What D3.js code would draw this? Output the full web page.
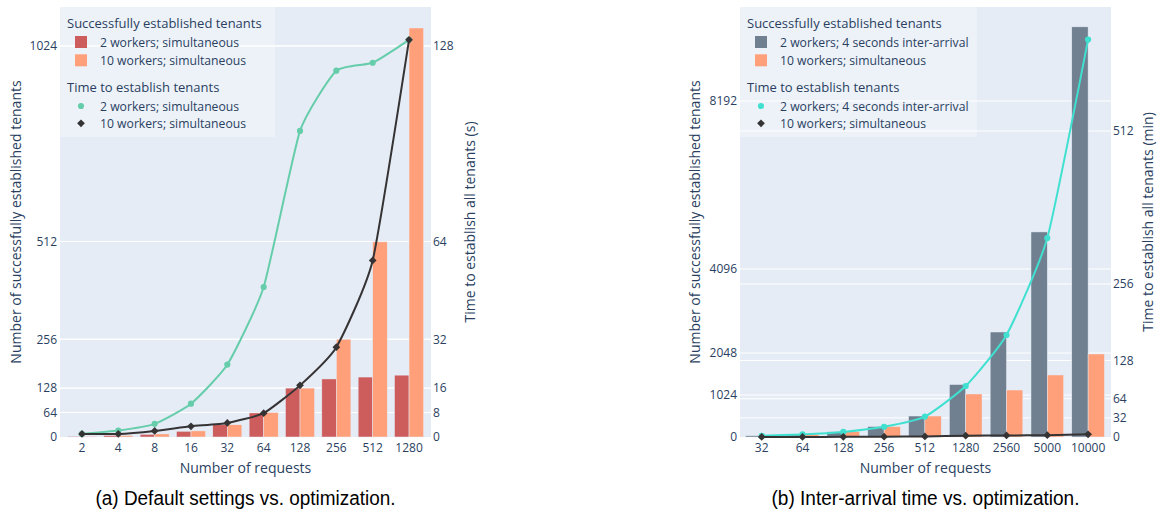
<!DOCTYPE html>
<html>
<head>
<meta charset="utf-8">
<script src="https://cdn.jsdelivr.net/npm/d3@7"></script>
<style>
  body { margin: 0; background: #fff; }
  text { font-family: "Open Sans", verdana, arial, sans-serif; fill: #2a3f5f; }
  .caption { font-family: "Liberation Sans", Arial, sans-serif; fill: #000; }
</style>
</head>
<body>
<div id="chart"></div>
<script>
//Data
var requestsA = ["2", "4", "8", "16", "32", "64", "128", "256", "512", "1280"];
var tenantsA2 = [2, 4, 7, 15, 32, 63, 128, 152, 157, 162];
var tenantsA10 = [2, 4, 8, 16, 32, 64, 128, 256, 511, 1071];
var timeA2 = [1.0, 2.1, 4.3, 10.9, 23.7, 49.1, 100.2, 119.9, 122.5, 130];
var timeA10 = [1.0, 1.0, 2.0, 3.5, 4.6, 7.8, 16.9, 29.4, 57.8, 130];
var leftTicksA = [0, 64, 128, 256, 512, 1024];
var rightTicksA = [0, 8, 16, 32, 64, 128];

var requestsB = ["32", "64", "128", "256", "512", "1280", "2560", "5000", "10000"];
var tenantsB2 = [32, 64, 128, 256, 512, 1280, 2560, 5000, 10000];
var tenantsB10 = [32, 64, 128, 256, 512, 1049, 1146, 1512, 2024];
var timeB2 = [2.1, 4.3, 8.5, 17.1, 34.1, 85.3, 170.7, 333, 665];
var timeB10 = [0.1, 0.1, 0.3, 0.5, 1.0, 2.2, 2.6, 3.0, 4.4];
var leftTicksB = [0, 1024, 2048, 4096, 8192];
var rightTicksB = [0, 32, 64, 128, 256, 512];

var legendTitles = ["Successfully established tenants", "Time to establish tenants"];
var legendA = ["2 workers; simultaneous", "10 workers; simultaneous"];
var legendB = ["2 workers; 4 seconds inter-arrival", "10 workers; simultaneous"];

var svg = d3
  .select("#chart")
  .append("svg")
  .attr("width", 1161)
  .attr("height", 513);

/**
 * draws one panel: bars on the left axis, lines on the right axis
 */
function drawPanel(p) {
  var g = svg.append("g");

  g.append("rect")
    .attr("x", p.left)
    .attr("y", p.top)
    .attr("width", p.right - p.left)
    .attr("height", p.bottom - p.top)
    .attr("fill", "#e5ecf6");

  var xScale = d3.scaleBand().domain(p.cats).range([p.x0, p.x1]).padding(0);
  var yScale = d3.scaleLinear().domain([0, p.yMax]).range([p.bottom, p.top]);
  var y2Scale = d3.scaleLinear().domain([0, p.y2Max]).range([p.bottom, p.top]);

  // grid lines for both axes
  g.selectAll(".grid1")
    .data(p.yTicks.filter((d) => d > 0))
    .enter()
    .append("line")
    .attr("x1", p.left)
    .attr("x2", p.right)
    .attr("y1", (d) => yScale(d))
    .attr("y2", (d) => yScale(d))
    .attr("stroke", "#fff")
    .attr("stroke-width", 1);
  g.selectAll(".grid2")
    .data(p.y2Ticks.filter((d) => d > 0))
    .enter()
    .append("line")
    .attr("x1", p.left)
    .attr("x2", p.right)
    .attr("y1", (d) => y2Scale(d))
    .attr("y2", (d) => y2Scale(d))
    .attr("stroke", "#fff")
    .attr("stroke-width", 1);

  //Bars
  var barW = xScale.bandwidth() * 0.4;
  var bars = [
    { values: p.bars1, color: p.color1, shift: -barW },
    { values: p.bars2, color: p.color2, shift: 0 },
  ];
  bars.forEach(function (b) {
    g.append("g")
      .selectAll("rect")
      .data(b.values)
      .enter()
      .append("rect")
      .attr("x", (d, i) => xScale(p.cats[i]) + xScale.bandwidth() / 2 + b.shift)
      .attr("y", (d) => yScale(d))
      .attr("width", barW)
      .attr("height", (d) => p.bottom - yScale(d))
      .attr("fill", b.color)
      .attr("stroke", "#e5ecf6")
      .attr("stroke-width", 0.5);
  });

  //Lines
  var lines = [
    { values: p.line1, color: p.lineColor1, symbol: d3.symbolCircle, size: 30, rot: 0 },
    { values: p.line2, color: "#353334", symbol: d3.symbolSquare, size: 30, rot: 45 },
  ];
  lines.forEach(function (l) {
    var line = d3
      .line()
      .x((d, i) => xScale(p.cats[i]) + xScale.bandwidth() / 2)
      .y((d) => y2Scale(d))
      .curve(d3.curveCardinal.tension(0.5));
    g.append("path")
      .datum(l.values)
      .attr("d", line)
      .attr("fill", "none")
      .attr("stroke", l.color)
      .attr("stroke-width", 2);
    g.append("g")
      .selectAll("path")
      .data(l.values)
      .enter()
      .append("path")
      .attr("d", d3.symbol().type(l.symbol).size(l.size))
      .attr(
        "transform",
        (d, i) =>
          "translate(" +
          (xScale(p.cats[i]) + xScale.bandwidth() / 2) +
          "," +
          y2Scale(d) +
          ")rotate(" + l.rot + ")"
      )
      .attr("fill", l.color);
  });

  // axes
  var xAxis = g
    .append("g")
    .attr("transform", "translate(0," + p.bottom + ")")
    .call(d3.axisBottom(xScale).tickSize(0).tickPadding(6));
  var yAxis = g
    .append("g")
    .attr("transform", "translate(" + p.left + ",0)")
    .call(d3.axisLeft(yScale).tickValues(p.yTicks).tickFormat(d3.format("d")).tickSize(0).tickPadding(3));
  var y2Axis = g
    .append("g")
    .attr("transform", "translate(" + p.right + ",0)")
    .call(d3.axisRight(y2Scale).tickValues(p.y2Ticks).tickFormat(d3.format("d")).tickSize(0).tickPadding(2));
  [xAxis, yAxis, y2Axis].forEach(function (a) {
    a.select(".domain").remove();
    a.selectAll("text").style("font-size", "12px").attr("fill", "#2a3f5f");
  });

  // axis titles
  g.append("text")
    .attr("x", (p.left + p.right) / 2)
    .attr("y", 473)
    .attr("text-anchor", "middle")
    .style("font-size", "14px")
    .text("Number of requests");
  g.append("text")
    .attr("transform", "translate(" + p.yTitleX + "," + (p.top + p.bottom) / 2 + ")rotate(-90)")
    .attr("text-anchor", "middle")
    .attr("dy", "0.35em")
    .style("font-size", "14px")
    .text("Number of successfully established tenants");
  g.append("text")
    .attr("transform", "translate(" + p.y2TitleX + "," + (p.top + p.bottom) / 2 + ")rotate(-90)")
    .attr("text-anchor", "middle")
    .attr("dy", "0.35em")
    .style("font-size", "14px")
    .text(p.y2Title);

  //Legend
  var lg = g.append("g").attr("transform", "translate(" + p.left + "," + p.top + ")");
  lg.append("rect")
    .attr("width", p.legendW)
    .attr("height", 130)
    .attr("fill", "rgba(255,255,255,0.3)");
  lg.append("text").attr("x", 7).attr("y", 21).style("font-size", "13px").text(legendTitles[0]);
  lg.append("text").attr("x", 7).attr("y", 85).style("font-size", "13px").text(legendTitles[1]);
  [p.color1, p.color2].forEach(function (c, i) {
    lg.append("rect")
      .attr("x", 15)
      .attr("y", 29 + i * 18.3)
      .attr("width", 12)
      .attr("height", 12)
      .attr("fill", c);
    lg.append("text")
      .attr("x", 40)
      .attr("y", 39.5 + i * 18.3)
      .style("font-size", "12.2px")
      .text(p.legend[i]);
  });
  lines.forEach(function (l, i) {
    lg.append("path")
      .attr("d", d3.symbol().type(l.symbol).size(l.size))
      .attr("transform", "translate(21," + (99 + i * 17.3) + ")rotate(" + l.rot + ")")
      .attr("fill", l.color);
    lg.append("text")
      .attr("x", 40)
      .attr("y", 103.5 + i * 17.3)
      .style("font-size", "12.2px")
      .text(p.legend[i]);
  });

  // caption below the panel
  g.append("text")
    .attr("class", "caption")
    .attr("x", (p.left + p.right) / 2)
    .attr("y", 505)
    .attr("text-anchor", "middle")
    .style("font-size", "20px")
    .attr("textLength", p.captionW)
    .attr("lengthAdjust", "spacingAndGlyphs")
    .text(p.caption);
}

drawPanel({
  left: 60, right: 431, top: 7, bottom: 437, x0: 63.8, x1: 427.2,
  cats: requestsA, yMax: 1126, y2Max: 140.75,
  yTicks: leftTicksA, y2Ticks: rightTicksA,
  bars1: tenantsA2, bars2: tenantsA10, color1: "#cd5c5c", color2: "#ffa07a",
  line1: timeA2, line2: timeA10, lineColor1: "#66cdaa",
  yTitleX: 16, y2TitleX: 470, y2Title: "Time to establish all tenants (s)",
  legend: legendA, legendW: 215,
  caption: "(a) Default settings vs. optimization.", captionW: 300,
});

drawPanel({
  left: 740, right: 1111, top: 7, bottom: 437, x0: 741.3, x1: 1108.5,
  cats: requestsB, yMax: 10484, y2Max: 719.5,
  yTicks: leftTicksB, y2Ticks: rightTicksB,
  bars1: tenantsB2, bars2: tenantsB10, color1: "#708090", color2: "#ffa07a",
  line1: timeB2, line2: timeB10, lineColor1: "#40e0d0",
  yTitleX: 695, y2TitleX: 1148, y2Title: "Time to establish all tenants (min)",
  legend: legendB, legendW: 237,
  caption: "(b) Inter-arrival time vs. optimization.", captionW: 308,
});
</script>
</body>
</html>
